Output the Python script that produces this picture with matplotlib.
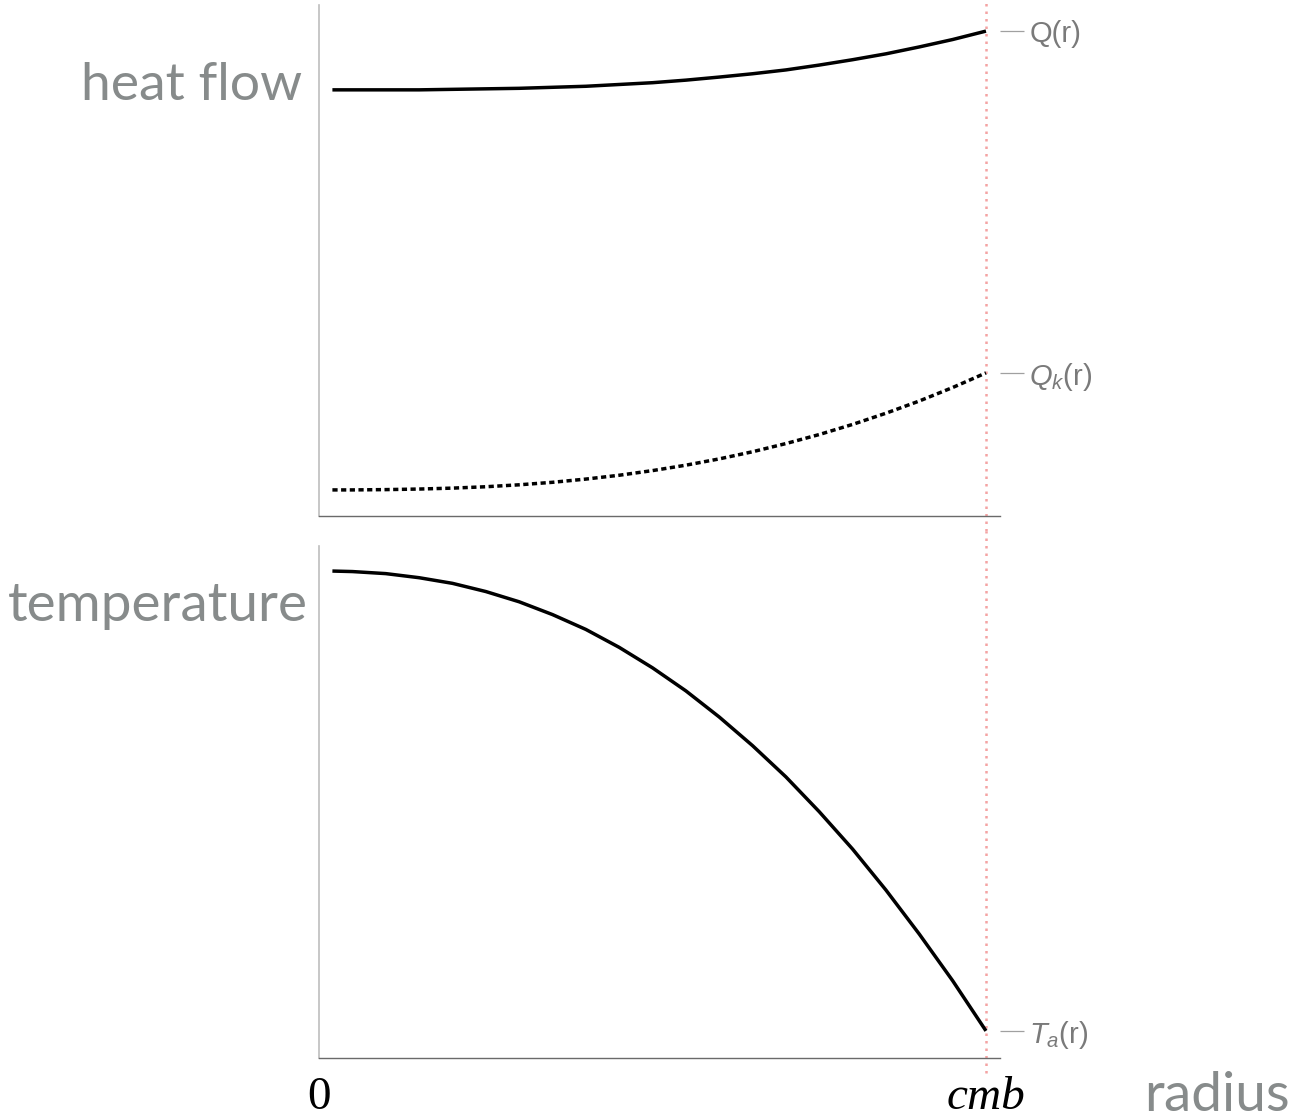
import matplotlib
matplotlib.use("Agg")
import matplotlib.pyplot as plt

# radius, normalised so that the core-mantle boundary sits at 1
radius = [0.02, 0.05, 0.10, 0.15, 0.20, 0.25, 0.30, 0.35, 0.40, 0.45, 0.50,
          0.55, 0.60, 0.65, 0.70, 0.75, 0.80, 0.85, 0.90, 0.95, 1.00]

# total heat flow and conductive heat flow (arbitrary units)
heat_total = [0.834, 0.834, 0.834, 0.834, 0.835, 0.836, 0.837, 0.839, 0.841, 0.8445, 0.848,
              0.853, 0.859, 0.8655, 0.873, 0.8825, 0.893, 0.9045, 0.918, 0.9325, 0.949]
heat_cond = [0.051, 0.051, 0.0516, 0.0527, 0.0545, 0.0572, 0.061, 0.0659, 0.0722, 0.0797, 0.0888,
             0.0994, 0.1117, 0.1257, 0.1417, 0.1594, 0.1792, 0.2011, 0.225, 0.2514, 0.280]

# adiabatic temperature (arbitrary units)
temp_adiabat = [0.951, 0.950, 0.946, 0.938, 0.927, 0.911, 0.891, 0.866, 0.837, 0.802, 0.762,
                0.717, 0.666, 0.610, 0.549, 0.481, 0.408, 0.328, 0.242, 0.151, 0.053]

r_cmb = 1.0
x_labels = ["0", "cmb"]

GREY_TEXT = "#878b8b"
LABEL_GREY = "#7a7a7a"

plt.rcParams["mathtext.fontset"] = "custom"
plt.rcParams["mathtext.rm"] = "Liberation Sans"
plt.rcParams["mathtext.it"] = "Liberation Sans:italic"


def style_axis(ax, ends, names):
    ax.set_xlim(0, 1.021)
    ax.set_ylim(0, 1)
    ax.spines["top"].set_visible(False)
    ax.spines["right"].set_visible(False)
    ax.spines["left"].set_color("#bdbdbd")
    ax.spines["left"].set_linewidth(1.2)
    ax.spines["bottom"].set_color("#6a6a6a")
    ax.spines["bottom"].set_linewidth(1.0)
    ax.set_xticks([])
    # curve names sit on the right, level with each curve's end
    ax.yaxis.set_ticks_position("right")
    ax.set_yticks(ends)
    ax.set_yticklabels(names)
    ax.tick_params(axis="y", direction="out", length=17, width=0.9,
                   color="#a0a0a0", pad=4, labelsize=21, labelcolor=LABEL_GREY)
    for lab in ax.get_yticklabels():
        lab.set_family("Liberation Sans")
    # core-mantle boundary marker
    ax.axvline(r_cmb, ymin=-0.03, ymax=1.03, color="#f4a3a3", lw=1.8,
               ls=(0, (1, 2.0)), clip_on=False, zorder=0)


fig = plt.figure(figsize=(12.97, 11.19), dpi=100)
ax_q = fig.add_axes([0.2460, 0.5389, 0.5250, 0.4566])
ax_t = fig.add_axes([0.2460, 0.0545, 0.5250, 0.4576])

ax_q.plot(radius, heat_total, color="black", lw=2.5, solid_capstyle="butt")
ax_q.plot(radius, heat_cond, color="black", lw=2.5, ls=(0, (1.5, 1.0)),
          dash_capstyle="butt")
style_axis(ax_q, [heat_total[-1], heat_cond[-1]], ["Q(r)", r"$Q_k$(r)"])

ax_t.plot(radius, temp_adiabat, color="black", lw=2.5, solid_capstyle="butt")
style_axis(ax_t, [temp_adiabat[-1]], [r"$T_a$(r)"])

# x positions: centre of the core and the core-mantle boundary
ax_t.text(0, -0.1, x_labels[0], transform=ax_t.get_xaxis_transform(),
          ha="center", va="baseline", fontsize=34, family="Liberation Serif")
ax_t.text(r_cmb, -0.1, x_labels[1], transform=ax_t.get_xaxis_transform(),
          ha="center", va="baseline", fontsize=34, family="Liberation Serif",
          style="italic")

fig.text(302 / 1297, 1 - 85 / 1119, "heat flow", ha="right", va="center",
         fontsize=38.5, color=GREY_TEXT, family="Lato")
fig.text(308 / 1297, 1 - 605 / 1119, "temperature", ha="right", va="center",
         fontsize=39.5, color=GREY_TEXT, family="Lato")
fig.text(1290 / 1297, 1 - 1111 / 1119, "radius", ha="right", va="baseline",
         fontsize=39.5, color=GREY_TEXT, family="Lato")

fig.savefig("out.png", dpi=100, facecolor="white")
